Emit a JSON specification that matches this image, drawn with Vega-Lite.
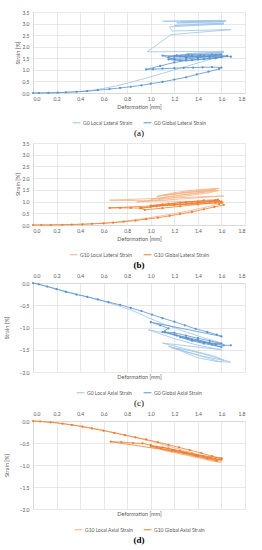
{
 "$schema": "https://vega.github.io/schema/vega-lite/v6.json",
 "padding": {"left": 4, "top": 10, "right": 5, "bottom": 0},
 "spacing": 3,
 "config": {
  "font": "Lato",
  "view": {"stroke": null},
  "axis": {"labelFontSize": 5, "titleFontSize": 5.5, "titleFontWeight": "normal", "labelColor": "#595959", "titleColor": "#595959", "gridColor": "#d9d9d9", "gridWidth": 0.6, "domainColor": "#d9d9d9", "ticks": false, "labelPadding": 4},
  "legend": {"orient": "bottom", "direction": "horizontal", "labelFontSize": 5, "labelColor": "#595959", "symbolType": "stroke", "symbolStrokeWidth": 1, "symbolSize": 60, "columnPadding": 8, "labelOffset": 2, "offset": 8, "layout": {"bottom": {"anchor": "middle"}}},
  "title": {"font": "Liberation Serif", "fontSize": 9, "color": "#000000", "fontWeight": "normal", "orient": "bottom", "offset": 3}
 },
 "datasets": {
  "aL": [{"x":0,"y":0},{"x":0.1,"y":0.005},{"x":0.2,"y":0.015},{"x":0.3,"y":0.035},{"x":0.4,"y":0.065},{"x":0.5,"y":0.12},{"x":0.6,"y":0.2},{"x":0.7,"y":0.3},{"x":0.82,"y":0.45},{"x":0.95,"y":0.63},{"x":1.1,"y":0.85},{"x":1.25,"y":1.07},{"x":1.4,"y":1.3},{"x":1.52,"y":1.47},{"x":1.6,"y":1.55},{"x":1.2,"y":1.6},{"x":1.4,"y":1.66},{"x":1.6,"y":1.72},{"x":1.25,"y":1.64},{"x":1.45,"y":1.7},{"x":1.62,"y":1.76},{"x":1.3,"y":1.7},{"x":1.5,"y":1.74},{"x":1.62,"y":1.8},{"x":0.97,"y":1.78},{"x":1.17,"y":2.52},{"x":1.68,"y":2.74},{"x":1.18,"y":2.68},{"x":1.16,"y":2.86},{"x":1.62,"y":2.98},{"x":1.2,"y":2.92},{"x":1.62,"y":3.02},{"x":1.22,"y":3.03},{"x":1.45,"y":3.06},{"x":1.63,"y":3.09},{"x":1.25,"y":3.07},{"x":1.45,"y":3.1},{"x":1.64,"y":3.12},{"x":1.1,"y":3.1},{"x":1.35,"y":3.12},{"x":1.6,"y":3.14}],
  "aG": [{"x":0,"y":0},{"x":0.05,"y":0},{"x":0.13,"y":0.005},{"x":0.21,"y":0.015},{"x":0.28,"y":0.03},{"x":0.37,"y":0.05},{"x":0.46,"y":0.08},{"x":0.55,"y":0.12},{"x":0.65,"y":0.17},{"x":0.74,"y":0.22},{"x":0.83,"y":0.27},{"x":0.92,"y":0.33},{"x":1.0,"y":0.4},{"x":1.1,"y":0.48},{"x":1.2,"y":0.58},{"x":1.3,"y":0.68},{"x":1.39,"y":0.8},{"x":1.49,"y":0.92},{"x":1.58,"y":1.04},{"x":1.6,"y":1.1},{"x":1.52,"y":1.12},{"x":1.44,"y":1.11},{"x":1.36,"y":1.1},{"x":1.28,"y":1.09},{"x":1.2,"y":1.07},{"x":1.1,"y":1.05},{"x":1.02,"y":1.03},{"x":0.96,"y":1.02},{"x":1.08,"y":1.17},{"x":1.2,"y":1.32},{"x":1.3,"y":1.4},{"x":1.4,"y":1.45},{"x":1.5,"y":1.5},{"x":1.6,"y":1.54},{"x":1.5,"y":1.57},{"x":1.4,"y":1.55},{"x":1.3,"y":1.53},{"x":1.2,"y":1.5},{"x":1.15,"y":1.45},{"x":1.25,"y":1.4},{"x":1.35,"y":1.42},{"x":1.45,"y":1.46},{"x":1.55,"y":1.5},{"x":1.65,"y":1.6},{"x":1.55,"y":1.63},{"x":1.45,"y":1.61},{"x":1.35,"y":1.6},{"x":1.25,"y":1.58},{"x":1.15,"y":1.55},{"x":1.22,"y":1.63},{"x":1.32,"y":1.65},{"x":1.42,"y":1.64},{"x":1.52,"y":1.66},{"x":1.6,"y":1.67},{"x":1.5,"y":1.58},{"x":1.4,"y":1.52},{"x":1.3,"y":1.47},{"x":1.2,"y":1.44},{"x":1.1,"y":1.62},{"x":1.2,"y":1.6},{"x":1.3,"y":1.58},{"x":1.4,"y":1.58},{"x":1.5,"y":1.57},{"x":1.6,"y":1.57},{"x":1.68,"y":1.57}],
  "bL": [{"x":0,"y":0},{"x":0.3,"y":0.02},{"x":0.5,"y":0.05},{"x":0.7,"y":0.12},{"x":0.9,"y":0.24},{"x":1.1,"y":0.4},{"x":1.3,"y":0.58},{"x":1.45,"y":0.74},{"x":1.6,"y":0.92},{"x":1.62,"y":0.98},{"x":0.65,"y":1.06},{"x":1.2,"y":1.16},{"x":1.62,"y":1.24},{"x":0.88,"y":0.98},{"x":1.1,"y":1.1},{"x":1.3,"y":1.24},{"x":1.5,"y":1.38},{"x":1.57,"y":1.47},{"x":1.0,"y":1.1},{"x":1.2,"y":1.25},{"x":1.4,"y":1.38},{"x":1.55,"y":1.5},{"x":1.3,"y":1.38},{"x":1.1,"y":1.26},{"x":1.25,"y":1.35},{"x":1.45,"y":1.45},{"x":1.58,"y":1.56},{"x":1.48,"y":1.54},{"x":1.35,"y":1.48},{"x":1.2,"y":1.38},{"x":1.05,"y":1.22},{"x":1.35,"y":1.44},{"x":1.5,"y":1.52},{"x":1.58,"y":1.45}],
  "bG": [{"x":0,"y":0},{"x":0.07,"y":0},{"x":0.15,"y":0},{"x":0.25,"y":0.01},{"x":0.33,"y":0.02},{"x":0.42,"y":0.03},{"x":0.5,"y":0.05},{"x":0.6,"y":0.07},{"x":0.68,"y":0.1},{"x":0.77,"y":0.14},{"x":0.87,"y":0.19},{"x":0.96,"y":0.25},{"x":1.06,"y":0.31},{"x":1.16,"y":0.39},{"x":1.25,"y":0.47},{"x":1.35,"y":0.56},{"x":1.45,"y":0.67},{"x":1.54,"y":0.77},{"x":1.62,"y":0.86},{"x":1.6,"y":0.95},{"x":0.65,"y":0.73},{"x":0.74,"y":0.73},{"x":0.83,"y":0.73},{"x":0.91,"y":0.72},{"x":0.95,"y":0.65},{"x":1.1,"y":0.72},{"x":1.25,"y":0.8},{"x":1.4,"y":0.88},{"x":1.55,"y":0.95},{"x":1.58,"y":1.02},{"x":1.4,"y":0.95},{"x":1.2,"y":0.87},{"x":1.0,"y":0.78},{"x":0.92,"y":0.72},{"x":1.05,"y":0.8},{"x":1.2,"y":0.86},{"x":1.35,"y":0.92},{"x":1.5,"y":1.0},{"x":1.57,"y":1.08},{"x":1.45,"y":1.05},{"x":1.3,"y":0.98},{"x":1.15,"y":0.9},{"x":1.0,"y":0.83},{"x":1.1,"y":0.88},{"x":1.25,"y":0.95},{"x":1.4,"y":1.0},{"x":1.55,"y":1.05},{"x":1.6,"y":1.0},{"x":1.58,"y":0.9}],
  "cL": [{"x":0,"y":0},{"x":0.1,"y":-0.06},{"x":0.2,"y":-0.13},{"x":0.3,"y":-0.2},{"x":0.4,"y":-0.27},{"x":0.5,"y":-0.34},{"x":0.6,"y":-0.41},{"x":0.7,"y":-0.49},{"x":0.8,"y":-0.58},{"x":0.9,"y":-0.68},{"x":0.97,"y":-0.77},{"x":1.05,"y":-0.86},{"x":1.15,"y":-0.96},{"x":1.3,"y":-1.1},{"x":1.45,"y":-1.23},{"x":1.6,"y":-1.35},{"x":1.62,"y":-1.4},{"x":0.98,"y":-1.05},{"x":1.2,"y":-1.25},{"x":1.4,"y":-1.4},{"x":1.6,"y":-1.5},{"x":1.1,"y":-1.35},{"x":1.25,"y":-1.45},{"x":1.4,"y":-1.55},{"x":1.55,"y":-1.65},{"x":1.62,"y":-1.74},{"x":1.45,"y":-1.65},{"x":1.3,"y":-1.55},{"x":1.18,"y":-1.45},{"x":1.3,"y":-1.5},{"x":1.45,"y":-1.6},{"x":1.58,"y":-1.7},{"x":1.68,"y":-1.78},{"x":1.55,"y":-1.76},{"x":1.4,"y":-1.68},{"x":1.25,"y":-1.52},{"x":1.15,"y":-1.42},{"x":1.35,"y":-1.58},{"x":1.5,"y":-1.7},{"x":1.6,"y":-1.78}],
  "cG": [{"x":0,"y":0},{"x":0.05,"y":-0.03},{"x":0.12,"y":-0.08},{"x":0.2,"y":-0.14},{"x":0.28,"y":-0.2},{"x":0.37,"y":-0.26},{"x":0.46,"y":-0.31},{"x":0.55,"y":-0.37},{"x":0.64,"y":-0.43},{"x":0.74,"y":-0.49},{"x":0.83,"y":-0.56},{"x":0.92,"y":-0.63},{"x":1.01,"y":-0.71},{"x":1.1,"y":-0.79},{"x":1.2,"y":-0.87},{"x":1.29,"y":-0.95},{"x":1.38,"y":-1.03},{"x":1.48,"y":-1.1},{"x":1.56,"y":-1.16},{"x":1.6,"y":-1.2},{"x":1.0,"y":-0.88},{"x":1.08,"y":-0.95},{"x":1.15,"y":-1.02},{"x":1.1,"y":-1.1},{"x":1.2,"y":-1.12},{"x":1.3,"y":-1.18},{"x":1.4,"y":-1.24},{"x":1.5,"y":-1.3},{"x":1.6,"y":-1.36},{"x":1.5,"y":-1.35},{"x":1.4,"y":-1.28},{"x":1.3,"y":-1.22},{"x":1.2,"y":-1.16},{"x":1.12,"y":-1.1},{"x":1.22,"y":-1.18},{"x":1.32,"y":-1.25},{"x":1.42,"y":-1.32},{"x":1.52,"y":-1.38},{"x":1.6,"y":-1.44},{"x":1.45,"y":-1.36},{"x":1.35,"y":-1.3},{"x":1.25,"y":-1.22},{"x":1.35,"y":-1.28},{"x":1.45,"y":-1.33},{"x":1.55,"y":-1.38},{"x":1.62,"y":-1.4},{"x":1.68,"y":-1.4}],
  "dL": [{"x":0,"y":0},{"x":0.2,"y":-0.04},{"x":0.4,"y":-0.11},{"x":0.6,"y":-0.21},{"x":0.8,"y":-0.33},{"x":1.0,"y":-0.46},{"x":1.2,"y":-0.61},{"x":1.4,"y":-0.76},{"x":1.55,"y":-0.88},{"x":1.6,"y":-0.92},{"x":1.0,"y":-0.58},{"x":1.1,"y":-0.64},{"x":1.2,"y":-0.7},{"x":1.3,"y":-0.76},{"x":1.4,"y":-0.82},{"x":1.5,"y":-0.88},{"x":1.58,"y":-0.93},{"x":1.1,"y":-0.66},{"x":1.2,"y":-0.72},{"x":1.35,"y":-0.8},{"x":1.5,"y":-0.9},{"x":1.6,"y":-0.94}],
  "dG": [{"x":0,"y":0},{"x":0.06,"y":-0.01},{"x":0.15,"y":-0.03},{"x":0.25,"y":-0.06},{"x":0.33,"y":-0.09},{"x":0.42,"y":-0.13},{"x":0.5,"y":-0.17},{"x":0.6,"y":-0.22},{"x":0.69,"y":-0.27},{"x":0.78,"y":-0.32},{"x":0.87,"y":-0.37},{"x":0.96,"y":-0.42},{"x":1.06,"y":-0.48},{"x":1.15,"y":-0.54},{"x":1.24,"y":-0.6},{"x":1.33,"y":-0.66},{"x":1.43,"y":-0.73},{"x":1.52,"y":-0.8},{"x":1.6,"y":-0.85},{"x":0.66,"y":-0.47},{"x":0.75,"y":-0.48},{"x":0.85,"y":-0.5},{"x":0.93,"y":-0.51},{"x":1.0,"y":-0.55},{"x":1.05,"y":-0.58},{"x":1.15,"y":-0.62},{"x":1.25,"y":-0.68},{"x":1.35,"y":-0.74},{"x":1.45,"y":-0.8},{"x":1.55,"y":-0.86},{"x":1.6,"y":-0.88},{"x":1.5,"y":-0.84},{"x":1.4,"y":-0.79},{"x":1.3,"y":-0.72},{"x":1.2,"y":-0.66},{"x":1.1,"y":-0.6},{"x":1.0,"y":-0.57},{"x":1.08,"y":-0.62},{"x":1.18,"y":-0.67},{"x":1.28,"y":-0.73},{"x":1.38,"y":-0.79},{"x":1.48,"y":-0.85},{"x":1.56,"y":-0.9},{"x":1.6,"y":-0.85}]
 },
 "vconcat": [
  {
   "width": 212, "height": 81,
   "title": {"text": "(a)"},
   "encoding": {
    "x": {"field": "x", "type": "quantitative", "scale": {"domain": [0, 1.8], "nice": false}, "axis": {"values": [0,0.2,0.4,0.6,0.8,1.0,1.2,1.4,1.6,1.8], "format": ".1f", "title": "Deformation [mm]", "titlePadding": 3, "labelPadding": 3}},
    "y": {"field": "y", "type": "quantitative", "scale": {"domain": [0, 3.5], "nice": false}, "axis": {"values": [0,0.5,1,1.5,2,2.5,3,3.5], "format": ".1f", "title": "Strain [%]", "titlePadding": 2}}
   },
   "layer": [
    {"data": {"name": "aL"}, "mark": {"type": "line", "strokeWidth": 0.8}, "encoding": {"order": {"value": null}, "color": {"datum": "G0 Local Lateral Strain", "type": "nominal", "title": null, "scale": {"domain": ["G0 Local Lateral Strain", "G0 Global Lateral Strain"], "range": ["#9dc3e6", "#5a93cf"]}}}},
    {"data": {"name": "aG"}, "mark": {"type": "line", "strokeWidth": 0.8, "point": {"filled": true, "size": 5}}, "encoding": {"order": {"value": null}, "color": {"datum": "G0 Global Lateral Strain", "type": "nominal", "title": null}}}
   ]
  },
  {
   "width": 212, "height": 82,
   "title": {"text": "(b)", "fontWeight": "bold"},
   "encoding": {
    "x": {"field": "x", "type": "quantitative", "scale": {"domain": [0, 1.8], "nice": false}, "axis": {"values": [0,0.2,0.4,0.6,0.8,1.0,1.2,1.4,1.6,1.8], "format": ".1f", "title": "Deformation [mm]", "titlePadding": 3, "labelPadding": 3}},
    "y": {"field": "y", "type": "quantitative", "scale": {"domain": [0, 3.5], "nice": false}, "axis": {"values": [0,0.5,1,1.5,2,2.5,3,3.5], "format": ".1f", "title": "Strain [%]", "titlePadding": 2}}
   },
   "layer": [
    {"data": {"name": "bL"}, "mark": {"type": "line", "strokeWidth": 0.8}, "encoding": {"order": {"value": null}, "color": {"datum": "G10 Local Lateral Strain", "type": "nominal", "title": null, "scale": {"domain": ["G10 Local Lateral Strain", "G10 Global Lateral Strain"], "range": ["#f4b183", "#ed7d31"]}}}},
    {"data": {"name": "bG"}, "mark": {"type": "line", "strokeWidth": 0.8, "point": {"filled": true, "size": 5}}, "encoding": {"order": {"value": null}, "color": {"datum": "G10 Global Lateral Strain", "type": "nominal", "title": null}}}
   ]
  },
  {
   "width": 212, "height": 89,
   "title": {"text": "(c)"},
   "resolve": {"axis": {"x": "independent"}},
   "encoding": {
    "y": {"field": "y", "type": "quantitative", "scale": {"domain": [-2, 0], "nice": false}, "axis": {"values": [-2,-1.5,-1,-0.5,0], "format": ".1f", "title": "Strain [%]", "titlePadding": 10}}
   },
   "layer": [
    {"data": {"name": "cL"}, "mark": {"type": "line", "strokeWidth": 0.8}, "encoding": {
      "x": {"field": "x", "type": "quantitative", "scale": {"domain": [0, 1.8], "nice": false}, "axis": {"orient": "top", "values": [0,0.2,0.4,0.6,0.8,1.0,1.2,1.4,1.6,1.8], "format": ".1f", "title": null, "labelPadding": 5}},
      "order": {"value": null}, "color": {"datum": "G0 Local Axial Strain", "type": "nominal", "title": null, "scale": {"domain": ["G0 Local Axial Strain", "G0 Global Axial Strain"], "range": ["#9dc3e6", "#5a93cf"]}}}},
    {"data": {"name": "cG"}, "mark": {"type": "line", "strokeWidth": 0.8, "point": {"filled": true, "size": 5}}, "encoding": {
      "x": {"field": "x", "type": "quantitative", "scale": {"domain": [0, 1.8], "nice": false}, "axis": {"orient": "bottom", "labels": false, "grid": false, "domain": false, "title": "Deformation [mm]", "titlePadding": 2}},
      "order": {"value": null}, "color": {"datum": "G0 Global Axial Strain", "type": "nominal", "title": null}}}
   ]
  },
  {
   "width": 212, "height": 88,
   "title": {"text": "(d)", "fontWeight": "bold"},
   "resolve": {"axis": {"x": "independent"}},
   "encoding": {
    "y": {"field": "y", "type": "quantitative", "scale": {"domain": [-2, 0], "nice": false}, "axis": {"values": [-2,-1.5,-1,-0.5,0], "format": ".1f", "title": "Strain [%]", "titlePadding": 10}}
   },
   "layer": [
    {"data": {"name": "dL"}, "mark": {"type": "line", "strokeWidth": 0.8}, "encoding": {
      "x": {"field": "x", "type": "quantitative", "scale": {"domain": [0, 1.8], "nice": false}, "axis": {"orient": "top", "values": [0,0.2,0.4,0.6,0.8,1.0,1.2,1.4,1.6,1.8], "format": ".1f", "title": null, "labelPadding": 5}},
      "order": {"value": null}, "color": {"datum": "G10 Local Axial Strain", "type": "nominal", "title": null, "scale": {"domain": ["G10 Local Axial Strain", "G10 Global Axial Strain"], "range": ["#f4b183", "#ed7d31"]}}}},
    {"data": {"name": "dG"}, "mark": {"type": "line", "strokeWidth": 0.8, "point": {"filled": true, "size": 5}}, "encoding": {
      "x": {"field": "x", "type": "quantitative", "scale": {"domain": [0, 1.8], "nice": false}, "axis": {"orient": "bottom", "labels": false, "grid": false, "domain": false, "title": "Deformation [mm]", "titlePadding": 2}},
      "order": {"value": null}, "color": {"datum": "G10 Global Axial Strain", "type": "nominal", "title": null}}}
   ]
  }
 ],
 "resolve": {"scale": {"color": "independent"}}
}
